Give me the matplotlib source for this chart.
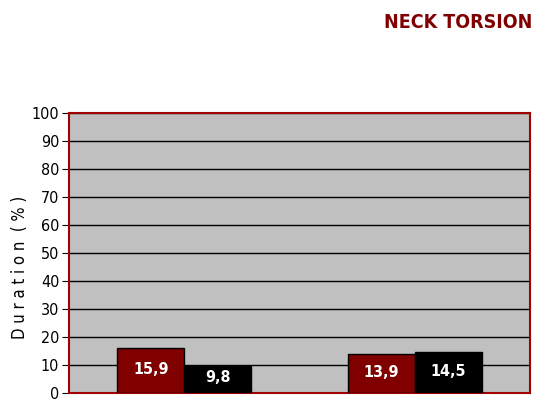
import matplotlib
matplotlib.use("Agg")
import matplotlib.pyplot as plt
import numpy as np

plt.rcParams['font.family'] = ['DejaVu Sans']
plt.rcParams['font.stretch'] = 'condensed'

groups = ['A', 'B']
series1 = [15.9, 13.9]
series2 = [9.8, 14.5]
labels1 = ['15,9', '13,9']
labels2 = ['9,8', '14,5']
yticks = list(range(0, 101, 10))

fig = plt.figure(figsize=(5.35, 4.01), dpi=100)
ax = fig.add_axes([69 / 535, 8 / 401, 461 / 535, 280 / 401])
ax.set_facecolor('#C0C0C0')

x = np.array([0.5, 1.5])
w = 0.29
b1 = ax.bar(x - w / 2, series1, w, color='#800000', edgecolor='black', linewidth=1, zorder=3)
b2 = ax.bar(x + w / 2, series2, w, color='black', edgecolor='black', linewidth=1, zorder=3)

for rect, lab in zip(b1, labels1):
    ax.text(rect.get_x() + rect.get_width() / 2, rect.get_height() / 2 + 0.5, lab,
            ha='center', va='center', color='white', fontsize=11.5, fontweight='bold', zorder=4)
for rect, lab in zip(b2, labels2):
    ax.text(rect.get_x() + rect.get_width() / 2, rect.get_height() / 2 + 0.5, lab,
            ha='center', va='center', color='white', fontsize=11.5, fontweight='bold', zorder=4)

ax.set_xlim(0, 2)
ax.set_ylim(0, 100)
ax.set_yticks(yticks)
ax.set_xticks([])
ax.yaxis.grid(True, color='black', linewidth=1, zorder=1)
ax.set_axisbelow(True)
for s in ax.spines.values():
    s.set_color('#A00000')
    s.set_linewidth(1.5)
ax.tick_params(axis='y', labelsize=11.5, length=5, color='black', pad=2)

ax.set_ylabel('D u r a t i o n  ( % )', fontsize=12)
ax.yaxis.set_label_coords(-0.087, 0.45)

fig.text(532 / 535, 1 - 22 / 401, 'NECK TORSION', ha='right', va='center',
         color='#800000', fontsize=14, fontweight='bold')

fig.savefig('out.png', dpi=100)
